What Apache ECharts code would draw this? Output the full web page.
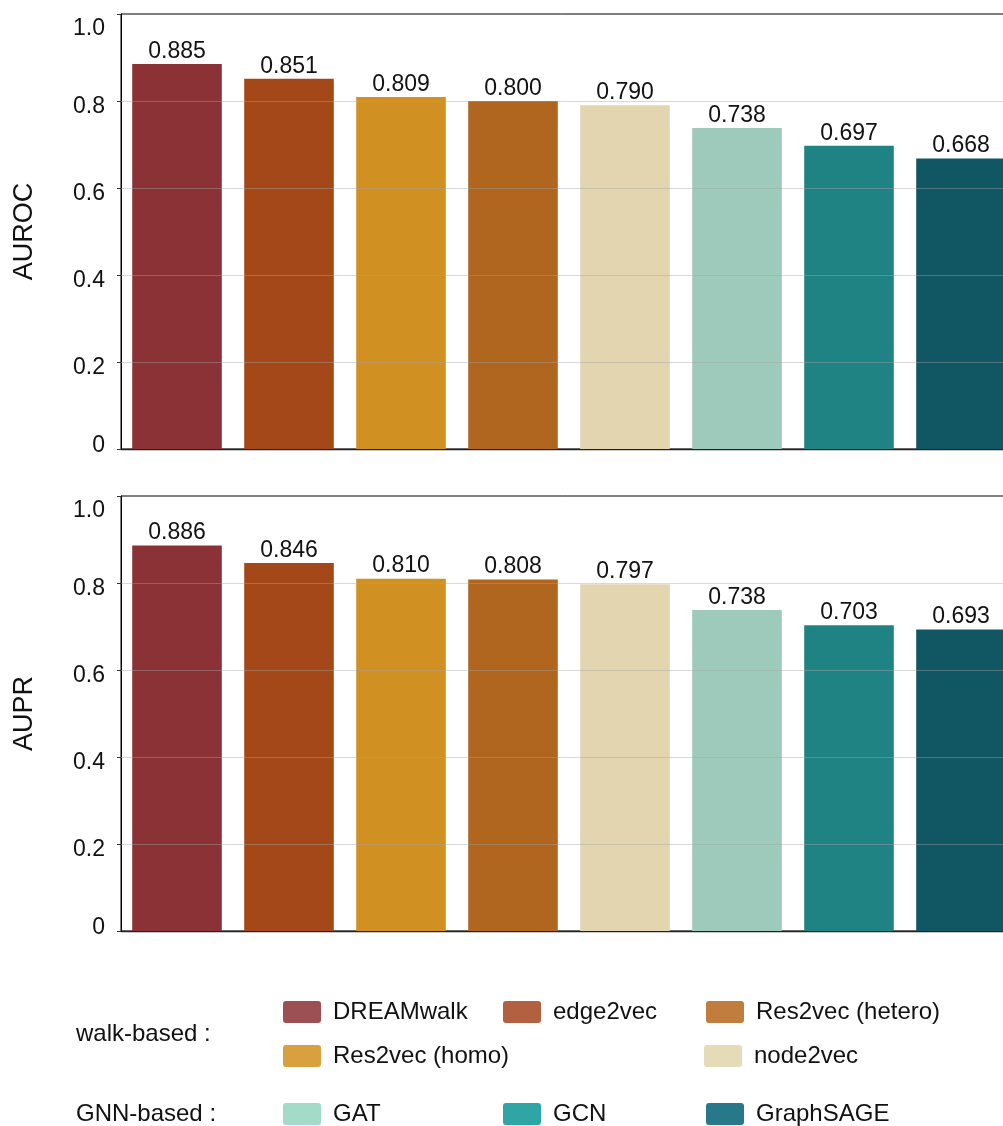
<!DOCTYPE html>
<html><head><meta charset="utf-8">
<script src="https://cdn.jsdelivr.net/npm/echarts@6/dist/echarts.min.js"></script>
<style>html,body{margin:0;padding:0;background:#fff}#c{width:1003px;height:1126px}</style>
</head><body><div id="c"></div>
<script>
// ---- data ----
const methods = ['DREAMwalk', 'edge2vec', 'Res2vec (homo)', 'Res2vec (hetero)', 'node2vec', 'GAT', 'GCN', 'GraphSAGE'];
const barColors = ['#8b3236', '#a4481a', '#d09022', '#b0661e', '#e2d5b0', '#9dcabb', '#1f8383', '#115663'];
const auroc = [0.885, 0.851, 0.809, 0.800, 0.790, 0.738, 0.697, 0.668];
const aupr = [0.886, 0.846, 0.810, 0.808, 0.797, 0.738, 0.703, 0.693];
const yTicks = [0, 0.2, 0.4, 0.6, 0.8, 1.0];
const panelNames = ['AUROC', 'AUPR'];
const walkLegend = ['DREAMwalk', 'edge2vec', 'Res2vec (hetero)', 'Res2vec (homo)', 'node2vec'];
const gnnLegend = ['GAT', 'GCN', 'GraphSAGE'];
const legendColors = ['#9c5054', '#b26040', '#c07d3e', '#d9a040', '#e6dbb8', '#a4dbc8', '#30a5a5', '#277888'];
const groupLabels = ['walk-based :', 'GNN-based :'];

// ---- chart ----
const FONT = '"Liberation Sans", Arial, Helvetica, sans-serif';
const chart = echarts.init(document.getElementById('c'), null, {renderer: 'canvas'});
const panels = [auroc, aupr];
const tops = [14, 496];
const grids = [], xAxes = [], yAxes = [], series = [];
const lblBase = {fontSize: 23, fontFamily: FONT, color: '#111'};
panels.forEach((vals, i) => {
  grids.push({left: 121, top: tops[i], width: 896, height: 435, outerBoundsMode: 'none', containLabel: false,
    show: true, borderColor: '#000', borderWidth: 1, backgroundColor: 'transparent'});
  xAxes.push({type: 'category', gridIndex: i, data: methods,
    axisLine: {show: true, lineStyle: {color: '#222', width: 1.3}},
    axisTick: {show: false}, axisLabel: {show: false}, splitLine: {show: false}});
  yAxes.push({type: 'value', gridIndex: i, min: 0, max: 1, interval: 0.2,
    name: panelNames[i], nameLocation: 'middle', nameGap: 83, nameRotate: 90,
    nameTextStyle: {fontSize: 27, fontFamily: FONT, color: '#111'},
    axisLine: {show: true, lineStyle: {color: '#000', width: 1}},
    axisTick: {show: true, length: 4, lineStyle: {color: '#333'}},
    axisLabel: {fontSize: 23, fontFamily: FONT, color: '#111', margin: 16,
      formatter: v => (v === 0 ? '{lo|0}' : v >= 1 ? '{hi|' + v.toFixed(1) + '}' : '{mid|' + v.toFixed(1) + '}'),
      rich: {
        lo: Object.assign({padding: [0, 0, 6, 0]}, lblBase),
        mid: Object.assign({padding: [12, 0, 0, 0]}, lblBase),
        hi: Object.assign({padding: [30, 0, 0, 0]}, lblBase)
      }},
    splitLine: {show: false}});
  series.push({type: 'bar', xAxisIndex: i, yAxisIndex: i, barCategoryGap: '20%',
    data: vals.map((v, k) => ({value: v, itemStyle: {color: barColors[k]}})),
    label: {show: true, position: 'top', distance: 1, fontSize: 23, fontFamily: FONT, color: '#111',
      formatter: p => p.value.toFixed(3)},
    markLine: {silent: true, symbol: 'none', label: {show: false}, z: 10,
      lineStyle: {color: 'rgba(165,165,165,0.42)', type: 'solid', width: 1},
      data: yTicks.filter(t => t > 0 && t < 1).map(t => ({yAxis: t}))}});
});

// legend drawn with graphic elements
const graphic = [];
const slotX = [283, 503, 706];
const rowY = [1012, 1056, 1114];
const walkSlots = [[0, 0], [0, 1], [0, 2], [1, 0], [1, 2]];
const gnnSlots = [[2, 0], [2, 1], [2, 2]];
const allLegend = walkLegend.concat(gnnLegend);
const allSlots = walkSlots.concat(gnnSlots);
allLegend.forEach((name, k) => {
  const [r, c] = allSlots[k];
  const x = slotX[c] - (name === 'node2vec' ? 2 : 0);
  const y = rowY[r];
  graphic.push({type: 'rect', shape: {x: x, y: y - 11, width: 38, height: 22, r: 3},
    style: {fill: legendColors[k]}});
  graphic.push({type: 'text', x: x + 50, y: y,
    style: {text: name, fontSize: 24, fontFamily: FONT, fill: '#111', verticalAlign: 'middle', align: 'left'}});
});
groupLabels.forEach((t, i) => {
  graphic.push({type: 'text', x: 76, y: i === 0 ? 1034 : 1114,
    style: {text: t, fontSize: 24, fontFamily: FONT, fill: '#111', verticalAlign: 'middle', align: 'left'}});
});

chart.setOption({
  animation: false,
  backgroundColor: '#fff',
  grid: grids, xAxis: xAxes, yAxis: yAxes, series: series, graphic: graphic
});
</script></body></html>
